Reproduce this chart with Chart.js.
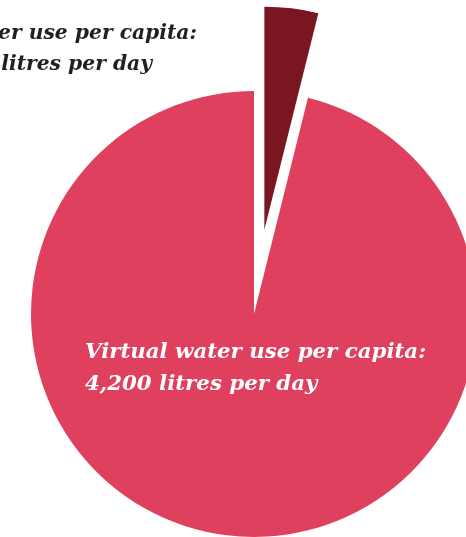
<!DOCTYPE html>
<html>
<head>
<meta charset="utf-8">
<script src="https://cdn.jsdelivr.net/npm/chart.js@4/dist/chart.umd.min.js"></script>
<style>
  html, body { margin: 0; padding: 0; background: #fff; overflow: hidden; width: 466px; height: 537px; }
  #wrap { position: absolute; left: 0; top: 0; width: 508px; height: 628px; }
</style>
</head>
<body>
<div id="wrap"><canvas id="pie"></canvas></div>
<script>
const categories = ["Direct water use per capita", "Virtual water use per capita"];
const litresPerDay = [170, 4200];
const sliceColors = ["#7b1520", "#df405d"];
const explodeBy = [85, 0];

// pull slices out along their mid angle without growing the radius (the built-in offset does)
const explodePlugin = {
	id: "explode",
	afterDatasetsUpdate(chart) {
		const arcs = chart.getDatasetMeta(0).data;
		arcs.forEach((arc, i) => {
			const d = explodeBy[i] || 0;
			const mid = (arc.startAngle + arc.endAngle) / 2;
			arc.x += Math.cos(mid) * d;
			arc.y += Math.sin(mid) * d;
		});
	}
};

// the two captions, drawn as text onto the canvas
const labelPlugin = {
	id: "captions",
	afterDraw(chart) {
		const c = chart.ctx;
		c.save();
		c.textBaseline = "alphabetic";

		c.font = "italic bold 21.3px 'DejaVu Serif'";
		c.fillStyle = "#ffffff";
		c.textAlign = "left";
		c.fillText("Virtual water use per capita:", 85, 358);
		c.fillText("4,200 litres per day", 85, 390);

		c.font = "italic bold 20.3px 'DejaVu Serif'";
		c.fillStyle = "#231f20";
		c.textAlign = "right";
		c.fillText("Direct water use per capita:", 197, 39);
		c.fillText("170 litres per day", 152, 70);
		c.restore();
	}
};

const ctx = document.getElementById("pie");
new Chart(ctx, {
	type: "pie",
	data: {
		labels: categories,
		datasets: [{
			data: litresPerDay,
			backgroundColor: sliceColors,
			borderWidth: 0
		}]
	},
	options: {
		responsive: true,
		maintainAspectRatio: false,
		animation: false,
		radius: 223,
		layout: { padding: 0 },
		plugins: {
			legend: { display: false },
			tooltip: { enabled: false }
		}
	},
	plugins: [explodePlugin, labelPlugin]
});
</script>
</body>
</html>
